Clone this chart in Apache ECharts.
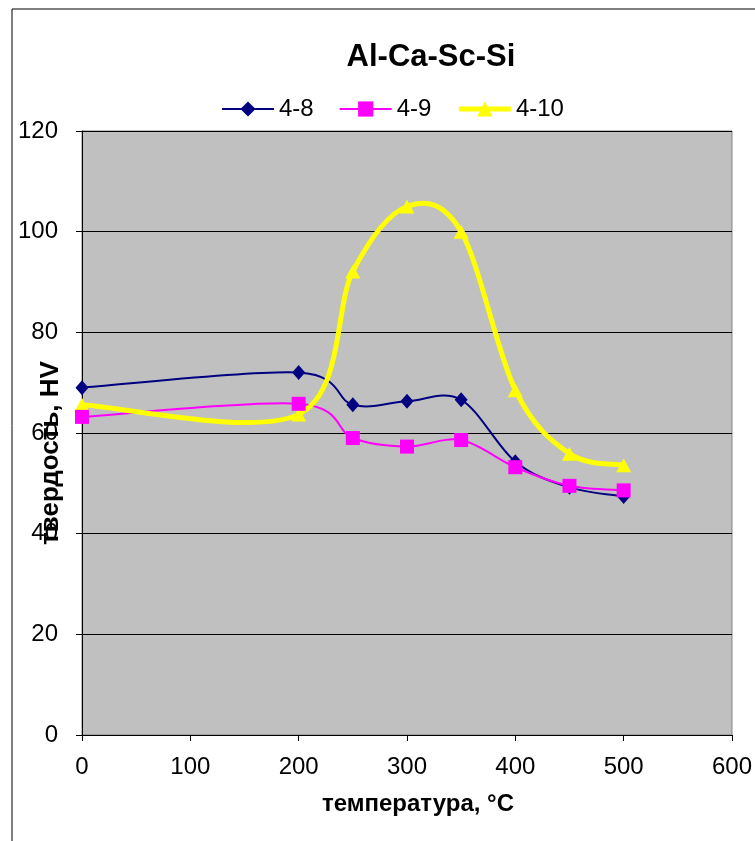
<!DOCTYPE html>
<html>
<head>
<meta charset="utf-8">
<script src="https://cdn.jsdelivr.net/npm/echarts@6/dist/echarts.min.js"></script>
<style>
  html, body { margin: 0; padding: 0; background: #fff; }
  #chart { width: 755px; height: 841px; }
</style>
</head>
<body>
<div id="chart"></div>
<script>
// температура, °C
const temps = [0, 200, 250, 300, 350, 400, 450, 500]
// твердость, HV
const hv48 = [69.0, 72.0, 65.6, 66.3, 66.6, 54.3, 49.2, 47.4]
const hv49 = [63.2, 65.8, 59.0, 57.3, 58.6, 53.2, 49.5, 48.6]
const hv410 = [65.6, 63.7, 92.1, 105.0, 100.0, 68.5, 55.9, 53.6]

const pairs = (ys) => temps.map((t, i) => [t, ys[i]])
const font = 'Arial, "Liberation Sans", sans-serif'

// сглаживание как в Excel (Catmull-Rom), отрезок i -> i+1
function smoothSegment (color, width) {
  return function (params, api) {
    const n = params.dataInsideLength
    const i = params.dataIndexInside
    if (i >= n - 1) return null
    const pt = k => api.coord([api.value(0, k), api.value(1, k)])
    const p0 = pt(Math.max(i - 1, 0))
    const p1 = pt(i)
    const p2 = pt(i + 1)
    const p3 = pt(Math.min(i + 2, n - 1))
    return {
      type: 'bezierCurve',
      shape: {
        x1: p1[0],
        y1: p1[1],
        x2: p2[0],
        y2: p2[1],
        cpx1: p1[0] + (p2[0] - p0[0]) / 6,
        cpy1: p1[1] + (p2[1] - p0[1]) / 6,
        cpx2: p2[0] - (p3[0] - p1[0]) / 6,
        cpy2: p2[1] - (p3[1] - p1[1]) / 6
      },
      style: { stroke: color, lineWidth: width, fill: 'none' }
    }
  }
}

const lineSeries = (name, ys, symbol, size, color, z) => ({
  name: name,
  type: 'line',
  data: pairs(ys),
  symbol: symbol,
  symbolSize: size,
  lineStyle: { color: color, width: 2, opacity: 0 },
  itemStyle: { color: color },
  z: z
})

const curveSeries = (name, ys, color, width, z) => ({
  name: name + ' curve',
  type: 'custom',
  data: pairs(ys),
  encode: { x: 0, y: 1 },
  renderItem: smoothSegment(color, width),
  silent: true,
  z: z
})

const chart = echarts.init(document.getElementById('chart'))
chart.setOption({
  animation: false,
  backgroundColor: '#fff',
  title: {
    text: 'Al-Ca-Sc-Si',
    left: 426,
    top: 37,
    textAlign: 'center',
    textStyle: { fontFamily: font, fontSize: 31, fontWeight: 'bold', color: '#000' }
  },
  legend: {
    left: 216,
    top: 92,
    itemWidth: 52,
    itemHeight: 19,
    itemGap: 25,
    textStyle: { fontFamily: font, fontSize: 24, color: '#000' },
    data: [
      { name: '4-8', lineStyle: { color: '#000080', width: 2, opacity: 1 } },
      { name: '4-9', lineStyle: { color: '#ff00ff', width: 2, opacity: 1 } },
      { name: '4-10', lineStyle: { color: '#ffff00', width: 5, opacity: 1 } }
    ]
  },
  grid: {
    left: 82,
    right: 23,
    top: 131,
    bottom: 106,
    show: true,
    backgroundColor: '#c0c0c0',
    borderColor: '#808080',
    borderWidth: 1
  },
  graphic: [
    {
      // рамка области диаграммы
      type: 'rect',
      shape: { x: 12, y: 9, width: 800, height: 900 },
      style: { fill: 'none', stroke: '#000', lineWidth: 1 },
      silent: true
    },
    {
      type: 'text',
      x: 418,
      y: 804,
      style: {
        text: 'температура, °C',
        font: 'bold 24px ' + font,
        fill: '#000',
        align: 'center',
        verticalAlign: 'middle'
      }
    },
    {
      type: 'text',
      x: 51,
      y: 453,
      rotation: Math.PI / 2,
      style: {
        text: 'твердость, HV',
        font: 'bold 26px ' + font,
        fill: '#000',
        align: 'center',
        verticalAlign: 'middle'
      }
    }
  ],
  xAxis: {
    type: 'value',
    min: 0,
    max: 600,
    interval: 100,
    axisLine: { show: true, lineStyle: { color: '#000', width: 1 } },
    axisTick: { show: true, length: 6, lineStyle: { color: '#000' } },
    axisLabel: { fontFamily: font, fontSize: 24, color: '#000', margin: 20 },
    splitLine: { show: false }
  },
  yAxis: {
    type: 'value',
    min: 0,
    max: 120,
    interval: 20,
    axisLine: { show: true, lineStyle: { color: '#000', width: 1 } },
    axisTick: { show: true, length: 6, lineStyle: { color: '#000' } },
    axisLabel: { fontFamily: font, fontSize: 24, color: '#000', margin: 24 },
    splitLine: { show: true, lineStyle: { color: '#000', width: 1 } }
  },
  series: [
    curveSeries('4-8', hv48, '#000080', 2, 2),
    curveSeries('4-9', hv49, '#ff00ff', 2, 2),
    curveSeries('4-10', hv410, '#ffff00', 5, 2),
    lineSeries('4-10', hv410, 'triangle', [15, 14], '#ffff00', 3),
    lineSeries('4-8', hv48, 'diamond', [13, 15], '#000080', 4),
    lineSeries('4-9', hv49, 'rect', 14, '#ff00ff', 5)
  ]
})
</script>
</body>
</html>
